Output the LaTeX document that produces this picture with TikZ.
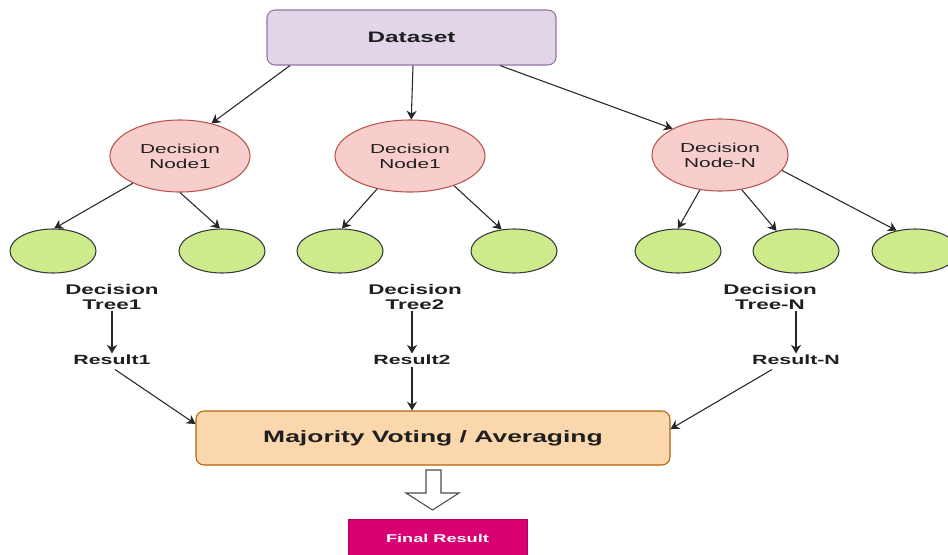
\documentclass[tikz,border=0pt]{standalone}
\usepackage{fontspec}
\setmainfont{Liberation Sans}[FakeStretch=1.6]
\usetikzlibrary{arrows.meta,calc,shapes.geometric}

\definecolor{dsfill}{HTML}{E1D5E7}
\definecolor{dsline}{HTML}{9673A6}
\definecolor{dnfill}{HTML}{F8CECC}
\definecolor{dnline}{HTML}{B85450}
\definecolor{lffill}{HTML}{CDEB8B}
\definecolor{lfline}{HTML}{36393D}
\definecolor{mvfill}{HTML}{FAD7AC}
\definecolor{mvline}{HTML}{B46504}
\definecolor{frfill}{HTML}{D80073}
\definecolor{txt}{HTML}{1F1F1F}

\begin{document}
\begin{tikzpicture}[x=0.75pt,y=-0.75pt,
  every node/.style={text=txt},
  roundbox/.style={draw, rounded corners=6pt, line width=0.8pt, align=center},
  dnode/.style={ellipse, draw=dnline, fill=dnfill, line width=0.8pt,
    minimum height=54pt, inner sep=0pt, align=center,
    font=\fontsize{9.75}{11.25}\selectfont},
  leaf/.style={ellipse, draw=lfline, fill=lffill, line width=0.8pt,
    minimum width=64.5pt, minimum height=33pt, inner sep=0pt},
  treelabel/.style={align=center, inner sep=1pt,
    font=\bfseries\fontsize{10.5}{11.25}\selectfont},
  reslabel/.style={inner sep=1pt, font=\bfseries\fontsize{10}{12}\selectfont},
  arr/.style={-{Stealth[length=6.5pt,width=7.5pt,inset=2pt]}, line width=0.8pt, draw=black!85}
]
\useasboundingbox (0,0) rectangle (948,554);

% top: the data set
\node[roundbox, draw=dsline, fill=dsfill, minimum width=216.75pt, minimum height=41.25pt,
      font=\bfseries\fontsize{11.4}{13}\selectfont] (ds) at (411.5,37.5) {Dataset};

% decision nodes
\node[dnode, minimum width=105pt]   (n1) at (180,156) {Decision\\Node1};
\node[dnode, minimum width=112.5pt] (n2) at (410,156) {Decision\\Node1};
\node[dnode, minimum width=102pt]   (nN) at (720,155) {Decision\\Node-N};

% leaves
\node[leaf] (g1) at (53,251) {};
\node[leaf] (g2) at (222,251) {};
\node[leaf] (g3) at (340,251) {};
\node[leaf] (g4) at (514,251) {};
\node[leaf] (g5) at (678,251) {};
\node[leaf] (g6) at (796,251) {};
\node[leaf] (g7) at (915,251) {};

% tree labels and results
\node[treelabel] (t1) at (112,297) {Decision\\Tree1};
\node[treelabel] (t2) at (415,297) {Decision\\Tree2};
\node[treelabel] (tN) at (770,297) {Decision\\Tree-N};
\node[reslabel] (r1) at (112,360) {Result1};
\node[reslabel] (r2) at (412,360) {Result2};
\node[reslabel] (rN) at (796,360) {Result-N};

% aggregation
\node[roundbox, draw=mvline, fill=mvfill, minimum width=355.5pt, minimum height=40.5pt,
      font=\bfseries\fontsize{12.4}{14}\selectfont] (mv) at (433,438) {Majority Voting / Averaging};

% final result
\node[draw=frfill!85!black, fill=frfill, text=white, minimum width=134.25pt, minimum height=28.5pt,
      font=\bfseries\fontsize{8.5}{10}\selectfont] (fr) at (437.5,538) {Final Result};

% hollow arrow between aggregation and final result
\draw[line width=0.8pt, draw=black!70, fill=white]
  (426,470) -- (441,470) -- (441,493) -- (459,493) -- (432.5,510) -- (406,493) -- (426,493) -- cycle;

% dataset to decision nodes
\draw[arr] ($(ds.south)+(-121.5,0)$) -- (n1.46);
\draw[arr] ($(ds.south)+(1.5,0)$) -- (n2.88);
\draw[arr] ($(ds.south)+(88.5,0)$) -- (nN.151);

% decision nodes to leaves
\draw[arr] (n1.210) -- (g1.87);
\draw[arr] (n1.270) -- (g2.95);
\draw[arr] (n2.225) -- (g3.85);
\draw[arr] (n2.326) -- (g4.120);
\draw[arr] (nN.240) -- (g5.90);
\draw[arr] (nN.302) -- (g6.134);
\draw[arr] (nN.346) -- (g7.132);

% trees to results
\draw[arr] (t1.south) -- (r1.north);
\draw[arr] (t2.south -| r2.north) -- (r2.north);
\draw[arr] (tN.south -| rN.north) -- (rN.north);

% results to aggregation
\draw[arr] ($(r1.south)+(3,3)$) -- ($(mv.west)+(0,-14)$);
\draw[arr] (r2.south) -- (r2.south |- mv.north);
\draw[arr] ($(rN.south)+(-24,3)$) -- ($(mv.east)+(0,-9)$);
\end{tikzpicture}
\end{document}
